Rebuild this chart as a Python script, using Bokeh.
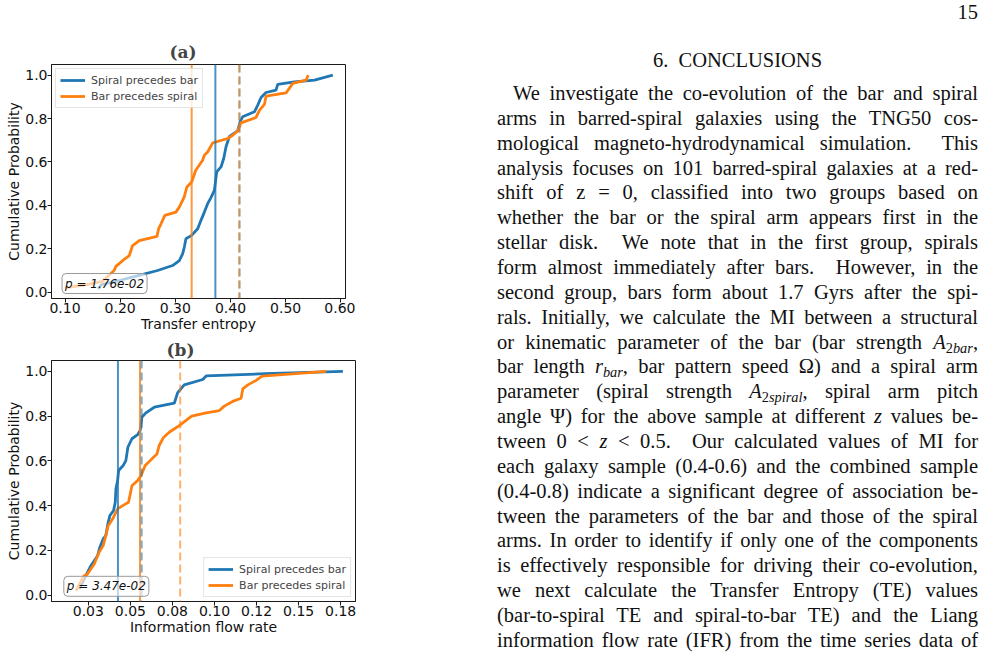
from bokeh.plotting import figure
from bokeh.models import Span, Label, Legend, LegendItem, Div, Spacer, FixedTicker, Range1d, PrintfTickFormatter
from bokeh.layouts import row, column
from bokeh.embed import file_html
from bokeh.resources import INLINE

BLUE = "#1f77b4"
ORANGE = "#ff7f0e"
INK = "#1a1a1a"

# ---- (a) transfer entropy: empirical CDFs of the two groups ----
te_spiral_first_x = [0.1603, 0.1660, 0.2000, 0.2376, 0.2679, 0.2950, 0.3073, 0.3132, 0.3163, 0.3192,
                     0.3296, 0.3405, 0.3465, 0.3526, 0.3586, 0.3646, 0.3708, 0.3750, 0.3828, 0.3877,
                     0.3918, 0.3980, 0.4130, 0.4180, 0.4220, 0.4434, 0.4494, 0.4554, 0.4644, 0.4826,
                     0.4856, 0.5160, 0.5523, 0.5855]
te_spiral_first_y = [0.015, 0.035, 0.055, 0.080, 0.100, 0.123, 0.146, 0.177, 0.208, 0.246,
                     0.262, 0.292, 0.331, 0.369, 0.408, 0.436, 0.469, 0.554, 0.577, 0.616,
                     0.669, 0.718, 0.743, 0.789, 0.808, 0.831, 0.862, 0.897, 0.920, 0.931,
                     0.957, 0.969, 0.977, 1.000]
te_bar_first_x = [0.0997, 0.1400, 0.1680, 0.1890, 0.1920, 0.2085, 0.2165, 0.2225, 0.2347, 0.2667,
                  0.2697, 0.2740, 0.2810, 0.3010, 0.3072, 0.3160, 0.3210, 0.3296, 0.3370, 0.3495,
                  0.3526, 0.3586, 0.3677, 0.3949, 0.4040, 0.4130, 0.4190, 0.4463, 0.4524, 0.4615,
                  0.4644, 0.5007, 0.5130, 0.5370, 0.5410]
te_bar_first_y = [0.020, 0.035, 0.050, 0.100, 0.118, 0.154, 0.169, 0.215, 0.238, 0.257,
                  0.292, 0.315, 0.354, 0.369, 0.392, 0.438, 0.485, 0.508, 0.562, 0.608,
                  0.631, 0.646, 0.688, 0.708, 0.723, 0.743, 0.780, 0.805, 0.838, 0.865,
                  0.903, 0.918, 0.962, 0.977, 1.000]
te_median_spiral, te_median_bar = 0.3726, 0.3296
te_mean_spiral, te_mean_bar = 0.4162, 0.4162
te_pvalue = "p = 1.76e-02"

# ---- (b) Liang information flow rate ----
ifr_spiral_first_x = [0.0195, 0.0245, 0.0265, 0.0305, 0.0318, 0.0338, 0.0354, 0.0366, 0.0378, 0.0400,
                      0.0410, 0.0414, 0.0424, 0.0430, 0.0457, 0.0473, 0.0485, 0.0509, 0.0543, 0.0558,
                      0.0568, 0.0592, 0.0642, 0.0761, 0.0781, 0.0820, 0.0930, 0.0950, 0.1300, 0.1763]
ifr_spiral_first_y = [0.027, 0.101, 0.131, 0.176, 0.213, 0.251, 0.266, 0.318, 0.355, 0.378,
                      0.415, 0.475, 0.512, 0.557, 0.579, 0.601, 0.661, 0.699, 0.717, 0.736,
                      0.795, 0.815, 0.840, 0.858, 0.905, 0.940, 0.964, 0.980, 0.990, 1.000]
ifr_bar_first_x = [0.0176, 0.0225, 0.0245, 0.0285, 0.0314, 0.0338, 0.0354, 0.0368, 0.0394, 0.0424,
                   0.0454, 0.0489, 0.0509, 0.0543, 0.0563, 0.0588, 0.0628, 0.0658, 0.0671, 0.0698,
                   0.0731, 0.0790, 0.0864, 0.0950, 0.1029, 0.1058, 0.1108, 0.1158, 0.1168, 0.1198,
                   0.1247, 0.1283, 0.1664]
ifr_bar_first_y = [0.019, 0.086, 0.094, 0.139, 0.191, 0.221, 0.266, 0.310, 0.340, 0.385,
                   0.400, 0.415, 0.489, 0.512, 0.534, 0.579, 0.609, 0.631, 0.669, 0.706,
                   0.728, 0.758, 0.800, 0.815, 0.825, 0.845, 0.866, 0.880, 0.922, 0.940,
                   0.960, 0.979, 1.000]
ifr_median_spiral, ifr_median_bar = 0.0426, 0.0557
ifr_mean_spiral, ifr_mean_bar = 0.0567, 0.0796
ifr_pvalue = "p = 3.47e-02"

te_ticks = [0.1, 0.2, 0.3, 0.4, 0.5, 0.6]
ifr_ticks = [0.025, 0.05, 0.075, 0.1, 0.125, 0.15, 0.175]
ifr_tick_labels = ["0.03", "0.05", "0.08", "0.10", "0.12", "0.15", "0.18"]
prob_ticks = [0.0, 0.2, 0.4, 0.6, 0.8, 1.0]
series_names = ["Spiral precedes bar", "Bar precedes spiral"]


def style_axes(p):
    p.outline_line_color = INK
    p.outline_line_width = 1
    p.grid.visible = False
    p.background_fill_color = "white"
    p.border_fill_color = "white"
    for ax in (p.xaxis[0], p.yaxis[0]):
        ax.axis_line_color = INK
        ax.major_tick_line_color = INK
        ax.major_tick_out = 4
        ax.major_tick_in = 0
        ax.minor_tick_line_color = None
        ax.major_label_text_font = "DejaVu Sans"
        ax.major_label_text_font_size = "14px"
        ax.major_label_text_color = "#111111"
        ax.axis_label_text_font = "DejaVu Sans"
        ax.axis_label_text_font_size = "14px"
        ax.axis_label_text_font_style = "normal"
        ax.axis_label_text_color = "#111111"
        ax.major_label_standoff = 0
        ax.axis_label_standoff = 0
    p.yaxis[0].ticker = FixedTicker(ticks=prob_ticks)
    p.yaxis[0].formatter = PrintfTickFormatter(format="%.1f")
    p.yaxis[0].axis_label = "Cumulative Probability"
    p.title.text_font = "DejaVu Serif"
    p.title.text_font_style = "bold"
    p.title.text_font_size = "17px"
    p.title.align = "left"


def panel(title, xr, fw, fh, borders, xs, ys, medians, means, pval, pval_xy, legend_loc,
          title_shift, title_gap):
    left, right, top, bottom = borders
    p = figure(frame_width=fw, frame_height=fh, x_range=Range1d(*xr), y_range=Range1d(-0.029, 1.049),
               output_backend="svg", toolbar_location=None, title=title,
               min_border_left=left, min_border_right=right, min_border_top=top, min_border_bottom=bottom)
    style_axes(p)
    p.title.offset = title_shift
    p.title.standoff = title_gap
    colors = [BLUE, ORANGE]
    rends = []
    for x, y, c in zip(xs, ys, colors):
        rends.append(p.line(x, y, line_color=c, line_width=2.8))
    for m, c in zip(medians, colors):
        p.add_layout(Span(location=m, dimension="height", line_color=c, line_width=2, line_alpha=0.8))
    for m, c in zip(means, colors):
        p.add_layout(Span(location=m, dimension="height", line_color=c, line_width=2, line_alpha=0.6,
                          line_dash="8 4"))
    legend = Legend(items=[LegendItem(label=n, renderers=[r]) for n, r in zip(series_names, rends)],
                    location=legend_loc)
    legend.label_text_font = "DejaVu Sans"
    legend.label_text_font_size = "11px"
    legend.glyph_width = 25
    legend.glyph_height = 14
    legend.label_height = 14
    legend.label_standoff = 6
    legend.padding = 4
    legend.spacing = 2
    legend.margin = 4
    legend.border_line_color = "#cccccc"
    legend.background_fill_alpha = 0.8
    p.add_layout(legend)
    p.add_layout(Label(x=pval_xy[0], y=pval_xy[1], text=pval, text_font="DejaVu Sans",
                       text_font_style="italic", text_font_size="12px", text_align="center",
                       text_baseline="middle", text_color="#111111",
                       background_fill_color="white", background_fill_alpha=0.65,
                       border_line_color="#999999", border_line_width=1, padding=3, border_radius=4))
    return p


pa = panel("(a)", (0.0755, 0.6085), 294, 234, (49, 12, 64, 38),
           [te_spiral_first_x, te_bar_first_x], [te_spiral_first_y, te_bar_first_y],
           [te_median_spiral, te_median_bar], [te_mean_spiral, te_mean_bar],
           te_pvalue, (0.1717, 0.040), "top_left", 118, 6)
pa.xaxis[0].ticker = FixedTicker(ticks=te_ticks)
pa.xaxis[0].formatter = PrintfTickFormatter(format="%.2f")
pa.xaxis[0].axis_label = "Transfer entropy"

pb = panel("(b)", (0.0031, 0.1838), 304, 241, (51, 4, 24, 52),
           [ifr_spiral_first_x, ifr_bar_first_x], [ifr_spiral_first_y, ifr_bar_first_y],
           [ifr_median_spiral, ifr_median_bar], [ifr_mean_spiral, ifr_mean_bar],
           ifr_pvalue, (0.0357, 0.039), "bottom_right", 115, 1)
pb.xaxis[0].ticker = FixedTicker(ticks=ifr_ticks)
pb.xaxis[0].major_label_overrides = dict(zip(ifr_ticks, ifr_tick_labels))
pb.xaxis[0].axis_label = "Information flow rate"

# ---- page text on the right ----
SUB = '<sub style="font-size:70%;line-height:0;vertical-align:-0.3em">'
body_lines = [
    "We investigate the co-evolution of the bar and spiral",
    "arms in barred-spiral galaxies using the TNG50 cos-",
    "mological magneto-hydrodynamical simulation. &nbsp;This",
    "analysis focuses on 101 barred-spiral galaxies at a red-",
    "shift of z = 0, classified into two groups based on",
    "whether the bar or the spiral arm appears first in the",
    "stellar disk. &nbsp;We note that in the first group, spirals",
    "form almost immediately after bars. &nbsp;However, in the",
    "second group, bars form about 1.7 Gyrs after the spi-",
    "rals. Initially, we calculate the MI between a structural",
    "or kinematic parameter of the bar (bar strength <i>A</i>" + SUB + "2<i>bar</i></sub>,",
    "bar length <i>r</i>" + SUB + "<i>bar</i></sub>, bar pattern speed &Omega;) and a spiral arm",
    "parameter (spiral strength <i>A</i>" + SUB + "2<i>spiral</i></sub>, spiral arm pitch",
    "angle &Psi;) for the above sample at different <i>z</i> values be-",
    "tween 0 &lt; <i>z</i> &lt; 0.5. &nbsp;Our calculated values of MI for",
    "each galaxy sample (0.4-0.6) and the combined sample",
    "(0.4-0.8) indicate a significant degree of association be-",
    "tween the parameters of the bar and those of the spiral",
    "arms. In order to identify if only one of the components",
    "is effectively responsible for driving their co-evolution,",
    "we next calculate the Transfer Entropy (TE) values",
    "(bar-to-spiral TE and spiral-to-bar TE) and the Liang",
    "information flow rate (IFR) from the time series data of",
]

FS = 20.5
LH = 24.86
base = "position:absolute;white-space:nowrap;font-size:%.1fpx;line-height:%.2fpx;" % (FS, LH)
html = ['<div style="position:relative;width:505px;height:653px;font-family:\'Liberation Serif\',serif;color:#111;">']
html.append('<div style="%sleft:0;width:498px;top:0px;text-align:right;">15</div>' % base)
html.append('<div style="%sleft:17px;width:481px;top:48px;text-align:center;">6. &nbsp;CONCLUSIONS</div>' % base)
for k, t in enumerate(body_lines):
    indent = 16 if k == 0 else 0
    html.append('<div style="%sleft:%dpx;width:%dpx;top:%.2fpx;text-align:justify;text-align-last:justify;word-spacing:-1px;">%s</div>'
                % (base, 17 + indent, 481 - indent, 81 + k * LH, t))
html.append('</div>')
text_block = Div(text="".join(html), width=505, height=653, margin=0)

left_col = column(pa, pb)
layout = row(left_col, Spacer(width=121, height=653), text_block)

open("out.html", "w").write(file_html(layout, INLINE))
